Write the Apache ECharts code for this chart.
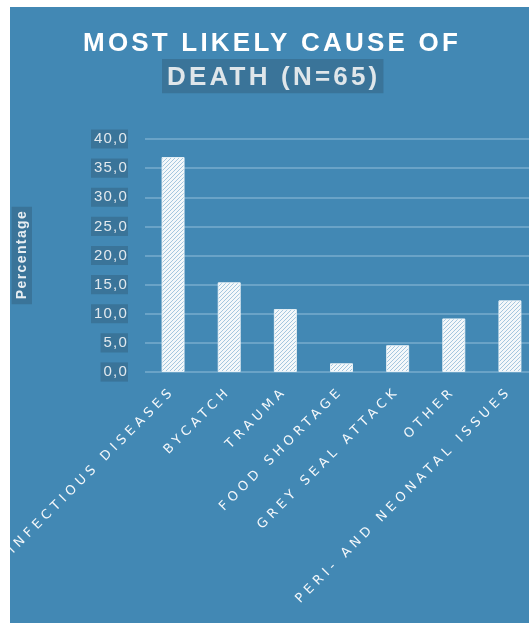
<!DOCTYPE html>
<html>
<head>
<meta charset="utf-8">
<script src="https://cdn.jsdelivr.net/npm/echarts@6/dist/echarts.min.js"></script>
<style>
  html, body { margin: 0; padding: 0; background: #ffffff; width: 529px; height: 623px; overflow: hidden; }
  #chart { position: absolute; left: 10px; top: 7px; width: 529px; height: 616px; }
</style>
</head>
<body>
<div id="chart"></div>
<script>
// ---- data ----
const categories = ['INFECTIOUS DISEASES', 'BYCATCH', 'TRAUMA', 'FOOD SHORTAGE', 'GREY SEAL ATTACK', 'OTHER', 'PERI- AND NEONATAL ISSUES'];
const percentages = [36.9, 15.4, 10.8, 1.5, 4.6, 9.2, 12.3];
const titleLine1 = 'MOST LIKELY CAUSE OF';
const titleLine2 = 'DEATH (N=65)';
const yAxisName = 'Percentage';
const yMin = 0, yMax = 40, yStep = 5;

// ---- letter spacing (per font size) for canvas text ----
(function () {
  const P = CanvasRenderingContext2D.prototype;
  if (!('letterSpacing' in P)) return;
  const map = { 26: 3.2, 15: 1.2, 14: 1.4, 13: 4.4 };
  function setSp(ctx) {
    const m = /(\d+(?:\.\d+)?)px/.exec(ctx.font || '');
    const s = m ? map[Math.round(parseFloat(m[1]))] : 0;
    ctx.letterSpacing = (s || 0) + 'px';
  }
  const of = P.fillText, om = P.measureText, os = P.strokeText;
  P.fillText = function () { setSp(this); return of.apply(this, arguments); };
  P.strokeText = function () { setSp(this); return os.apply(this, arguments); };
  P.measureText = function () { setSp(this); return om.apply(this, arguments); };
})();

function makeHatch() {
  const s = 4;
  const c = document.createElement('canvas');
  c.width = s; c.height = s;
  const g = c.getContext('2d');
  g.fillStyle = '#f4f8fa';
  g.fillRect(0, 0, s, s);
  g.strokeStyle = '#9cc1db';
  g.lineWidth = 0.9;
  g.beginPath();
  g.moveTo(0, s); g.lineTo(s, 0);
  g.moveTo(-1, 1); g.lineTo(1, -1);
  g.moveTo(s - 1, s + 1); g.lineTo(s + 1, s - 1);
  g.stroke();
  return c;
}

const chart = echarts.init(document.getElementById('chart'), null, { renderer: 'canvas' });
const boxColor = '#3a7499';
chart.setOption({
  backgroundColor: '#4288b4',
  animation: false,
  title: [
    {
      text: titleLine1, left: 257, top: 17, textAlign: 'center',
      textStyle: { fontFamily: 'Liberation Sans', fontSize: 26, fontWeight: 'bold', color: '#ffffff' }
    },
    {
      text: titleLine2, left: 152, top: 52, padding: [4, 3, 1, 5],
      backgroundColor: boxColor,
      textStyle: { fontFamily: 'Liberation Sans', fontSize: 26, fontWeight: 'bold', color: '#dfe6ea' }
    }
  ],
  grid: { left: 135, top: 132, width: 393, height: 233, containLabel: false, outerBoundsMode: 'none' },
  xAxis: {
    type: 'category',
    data: categories,
    axisLine: { show: false },
    axisTick: { show: false },
    axisLabel: {
      interval: 0, rotate: 45, margin: 17,
      fontFamily: 'DejaVu Sans', fontSize: 13, color: '#f3f7fa'
    }
  },
  yAxis: {
    type: 'value', min: yMin, max: yMax, interval: yStep,
    name: yAxisName, nameLocation: 'middle', nameRotate: 90, nameGap: 113,
    nameTextStyle: {
      fontFamily: 'Liberation Sans', fontSize: 14, fontWeight: 'bold', color: '#e8eef2',
      backgroundColor: boxColor, padding: [3, 3, 2, 5]
    },
    axisLine: { show: false },
    axisTick: { show: false },
    axisLabel: {
      margin: 17,
      fontFamily: 'Liberation Sans', fontSize: 15, color: '#e2e9ee',
      backgroundColor: boxColor, padding: [2, 0, 1, 3],
      formatter: v => v.toFixed(1).replace('.', ',')
    },
    splitLine: { lineStyle: { color: '#6aa3c7', width: 2 } }
  },
  series: [{
    type: 'bar',
    data: percentages,
    barWidth: 23,
    itemStyle: {
      color: { image: makeHatch(), repeat: 'repeat' },
      borderColor: 'rgba(240,246,250,0.9)', borderWidth: 1
    }
  }]
});
</script>
</body>
</html>
